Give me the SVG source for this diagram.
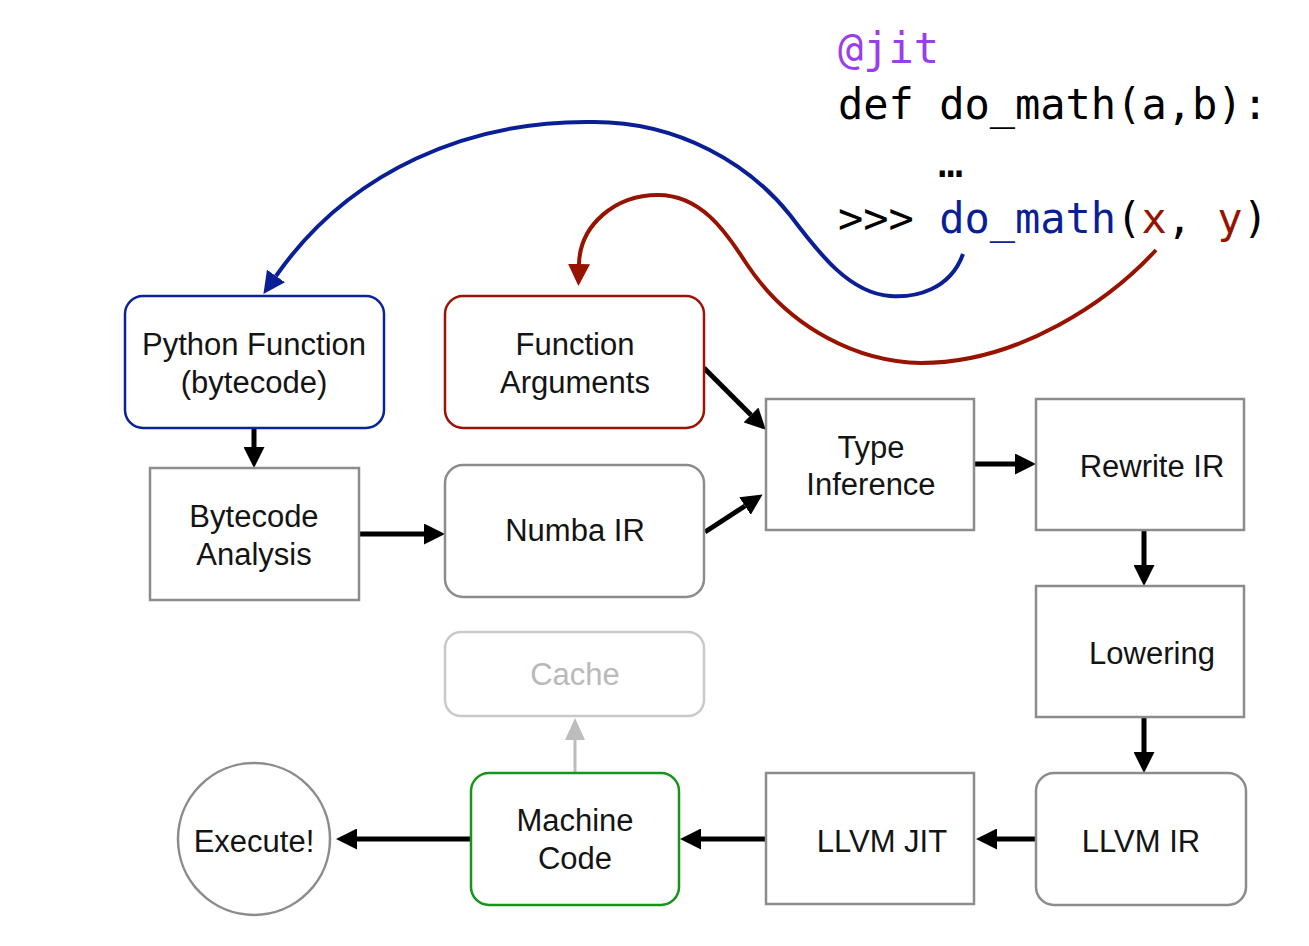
<svg xmlns="http://www.w3.org/2000/svg" width="1309" height="946" viewBox="0 0 1309 946">
<style>
.lbl{font-family:"Liberation Sans",Arial,sans-serif;font-size:31px;fill:#141414;text-anchor:middle}
.code{font-family:"DejaVu Sans Mono","Liberation Mono",monospace;font-size:42px;fill:#000}
.gray{fill:#fff;stroke:#8c8c8c;stroke-width:2.5}
.arr{fill:none;stroke:#000;stroke-width:5;marker-end:url(#hb)}
</style>
<defs>
<marker id="hb" viewBox="0 0 21 21" markerWidth="21" markerHeight="21" markerUnits="userSpaceOnUse" refX="0" refY="10.5" orient="auto"><path d="M0,0 L21,10.5 L0,21 z" fill="#000"/></marker>
<marker id="hg" viewBox="0 0 22 20" markerWidth="22" markerHeight="20" markerUnits="userSpaceOnUse" refX="0" refY="10" orient="auto"><path d="M0,0 L22,10 L0,20 z" fill="#bdbdbd"/></marker>
<marker id="hbl" viewBox="0 0 22 22" markerWidth="22" markerHeight="22" markerUnits="userSpaceOnUse" refX="0" refY="11" orient="auto"><path d="M0,0 L22,11 L0,22 z" fill="#0a1f96"/></marker>
<marker id="hr" viewBox="0 0 22 22" markerWidth="22" markerHeight="22" markerUnits="userSpaceOnUse" refX="0" refY="11" orient="auto"><path d="M0,0 L22,11 L0,22 z" fill="#981200"/></marker>
</defs>
<rect width="1309" height="946" fill="#fff"/>

<g id="code">
<text class="code" x="838" y="63" style="fill:#9a3ded">@jit</text>
<text class="code" x="838" y="119">def do_math(a,b):</text>
<text class="code" x="938" y="177">…</text>
<text class="code" x="838" y="233">&gt;&gt;&gt; <tspan style="fill:#0a1f96">do_math</tspan>(<tspan style="fill:#981200">x</tspan>, <tspan style="fill:#981200">y</tspan>)</text>
</g>

<g id="connectors">
<path d="M963,254 C950,290 915,298 890,296 C850,293 820,255 790,215 C750,165 680,122 594,122 C470,120 350,170 276,276" fill="none" stroke="#0a1f96" stroke-width="4" marker-end="url(#hbl)"/>
<path d="M1156,250 C1110,300 1020,363 921,363 C860,362 790,330 746,263 C725,230 700,195 658,195 C615,195 580,225 579,264" fill="none" stroke="#981200" stroke-width="4" marker-end="url(#hr)"/>
<path class="arr" d="M254,428 L254,447"/>
<path class="arr" d="M359,534 L424,534"/>
<path class="arr" d="M704,368 L751,415"/>
<path class="arr" d="M705,532 L745,506"/>
<path class="arr" d="M974,464 L1015,464"/>
<path class="arr" d="M1144,530 L1144,565"/>
<path class="arr" d="M1144,717 L1144,752"/>
<path class="arr" d="M1036,839 L997,839"/>
<path class="arr" d="M766,839 L701,839"/>
<path class="arr" d="M471,839 L357,839"/>
<path d="M575,773 L575,740" fill="none" stroke="#bdbdbd" stroke-width="3" marker-end="url(#hg)"/>
</g>

<g id="python-function">
<rect x="125" y="296" width="259" height="132" rx="18" fill="#fff" stroke="#0a2396" stroke-width="2.5"/>
<text class="lbl" x="254" y="355">Python Function</text>
<text class="lbl" x="254" y="393">(bytecode)</text>
</g>
<g id="function-arguments">
<rect x="445" y="296" width="259" height="132" rx="18" fill="#fff" stroke="#9b1306" stroke-width="2.5"/>
<text class="lbl" x="575" y="355">Function</text>
<text class="lbl" x="575" y="393">Arguments</text>
</g>
<g id="bytecode-analysis">
<rect class="gray" x="150" y="468" width="209" height="132"/>
<text class="lbl" x="254" y="527">Bytecode</text>
<text class="lbl" x="254" y="565">Analysis</text>
</g>
<g id="numba-ir">
<rect class="gray" x="445" y="465" width="259" height="132" rx="18"/>
<text class="lbl" x="575" y="541">Numba IR</text>
</g>
<g id="type-inference">
<rect class="gray" x="766" y="399" width="208" height="131"/>
<text class="lbl" x="871" y="458">Type</text>
<text class="lbl" x="871" y="495">Inference</text>
</g>
<g id="rewrite-ir">
<rect class="gray" x="1036" y="399" width="208" height="131"/>
<text class="lbl" x="1152" y="477">Rewrite IR</text>
</g>
<g id="lowering">
<rect class="gray" x="1036" y="586" width="208" height="131"/>
<text class="lbl" x="1152" y="664">Lowering</text>
</g>
<g id="cache">
<rect x="445" y="632" width="259" height="84" rx="16" fill="#fff" stroke="#c9c9c9" stroke-width="2.5"/>
<text class="lbl" x="575" y="685" style="fill:#b9b9b9">Cache</text>
</g>
<g id="machine-code">
<rect x="471" y="773" width="208" height="132" rx="18" fill="#fff" stroke="#17951b" stroke-width="2.5"/>
<text class="lbl" x="575" y="831">Machine</text>
<text class="lbl" x="575" y="869">Code</text>
</g>
<g id="llvm-jit">
<rect class="gray" x="766" y="773" width="208" height="131"/>
<text class="lbl" x="882" y="852">LLVM JIT</text>
</g>
<g id="llvm-ir">
<rect class="gray" x="1036" y="773" width="210" height="132" rx="18"/>
<text class="lbl" x="1141" y="852">LLVM IR</text>
</g>
<g id="execute">
<circle class="gray" cx="254" cy="839" r="76"/>
<text class="lbl" x="254" y="852">Execute!</text>
</g>
</svg>
